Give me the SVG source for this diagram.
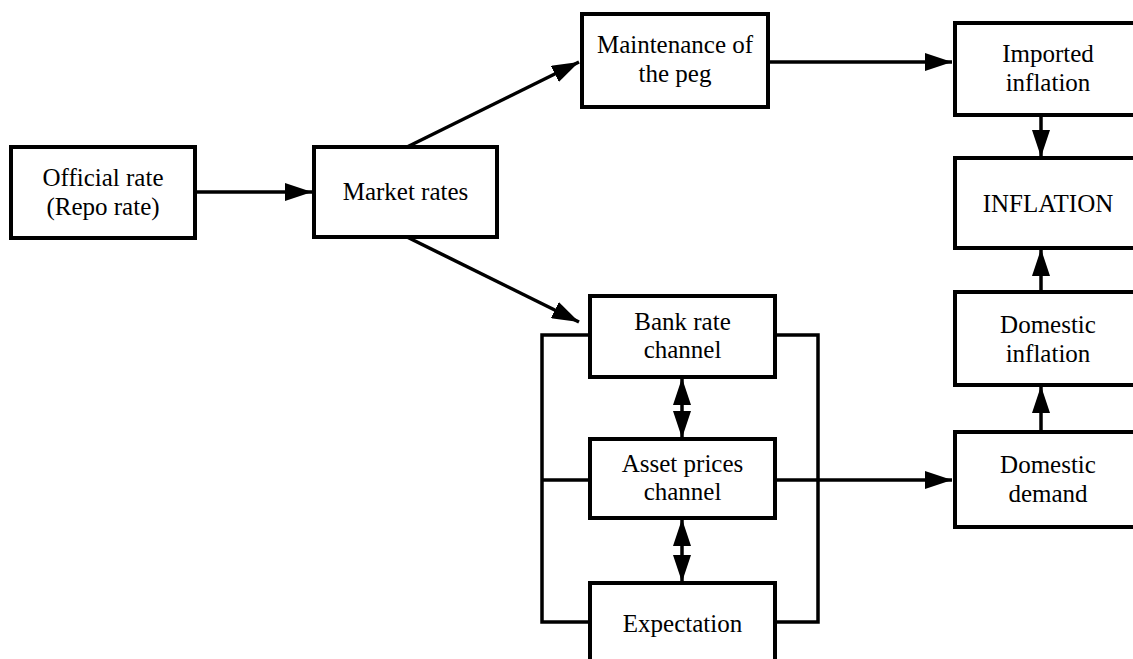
<svg xmlns="http://www.w3.org/2000/svg" width="1133" height="659" viewBox="0 0 1133 659">
<defs>
<marker id="ah" viewBox="0 0 27 18" refX="27" refY="9" markerWidth="27" markerHeight="18" markerUnits="userSpaceOnUse" orient="auto-start-reverse">
<path d="M0,0 L27,9 L0,18 z" fill="#000"/>
</marker>
<style>
.box{fill:#fff;stroke:#000;stroke-width:4;stroke-linejoin:miter}
.ln{fill:none;stroke:#000;stroke-width:3.5}
.t{font-family:"Liberation Serif","Times New Roman",serif;font-size:25px;fill:#000;text-anchor:middle}
</style>
</defs>
<rect width="1133" height="659" fill="#fff"/>
<g id="connectors">
<line class="ln" x1="195" y1="192" x2="312" y2="192" marker-end="url(#ah)"/>
<line class="ln" x1="407" y1="147" x2="579" y2="62" marker-end="url(#ah)"/>
<line class="ln" x1="407" y1="237" x2="579" y2="322" marker-end="url(#ah)"/>
<line class="ln" x1="768" y1="62" x2="952" y2="62" marker-end="url(#ah)"/>
<line class="ln" x1="1041" y1="115" x2="1041" y2="157" marker-end="url(#ah)"/>
<line class="ln" x1="1041" y1="292" x2="1041" y2="249" marker-end="url(#ah)"/>
<line class="ln" x1="1041" y1="432" x2="1041" y2="386" marker-end="url(#ah)"/>
<line class="ln" x1="682" y1="378" x2="682" y2="438" marker-start="url(#ah)" marker-end="url(#ah)"/>
<line class="ln" x1="682" y1="519" x2="682" y2="582" marker-start="url(#ah)" marker-end="url(#ah)"/>
<path class="ln" d="M590,335 H542 V622 H590 M542,480 H590"/>
<path class="ln" d="M775,335 H818 V622 H775"/>
<line class="ln" x1="775" y1="480" x2="952" y2="480" marker-end="url(#ah)"/>
</g>
<g id="official">
<rect class="box" x="11" y="147" width="184" height="91"/>
<text class="t" x="103" y="186">Official rate</text>
<text class="t" x="103" y="215">(Repo rate)</text>
</g>
<g id="market">
<rect class="box" x="314" y="147" width="183" height="90"/>
<text class="t" x="405.5" y="200">Market rates</text>
</g>
<g id="peg">
<rect class="box" x="582" y="14" width="186" height="93"/>
<text class="t" x="675" y="53">Maintenance of</text>
<text class="t" x="675" y="82">the peg</text>
</g>
<g id="imported">
<rect class="box" x="955" y="23" width="186" height="92"/>
<text class="t" x="1048" y="62">Imported</text>
<text class="t" x="1048" y="91">inflation</text>
</g>
<g id="inflation">
<rect class="box" x="955" y="158" width="186" height="90"/>
<text class="t" x="1048" y="212">INFLATION</text>
</g>
<g id="domestic-inflation">
<rect class="box" x="955" y="292" width="186" height="93"/>
<text class="t" x="1048" y="333">Domestic</text>
<text class="t" x="1048" y="362">inflation</text>
</g>
<g id="domestic-demand">
<rect class="box" x="955" y="432" width="186" height="95"/>
<text class="t" x="1048" y="473">Domestic</text>
<text class="t" x="1048" y="502">demand</text>
</g>
<g id="bank">
<rect class="box" x="590" y="296" width="185" height="81"/>
<text class="t" x="682.5" y="330">Bank rate</text>
<text class="t" x="682.5" y="358">channel</text>
</g>
<g id="asset">
<rect class="box" x="590" y="439" width="185" height="79"/>
<text class="t" x="682.5" y="472">Asset prices</text>
<text class="t" x="682.5" y="500">channel</text>
</g>
<g id="expectation">
<rect class="box" x="590" y="583" width="185" height="90"/>
<text class="t" x="682.5" y="632">Expectation</text>
</g>
</svg>
